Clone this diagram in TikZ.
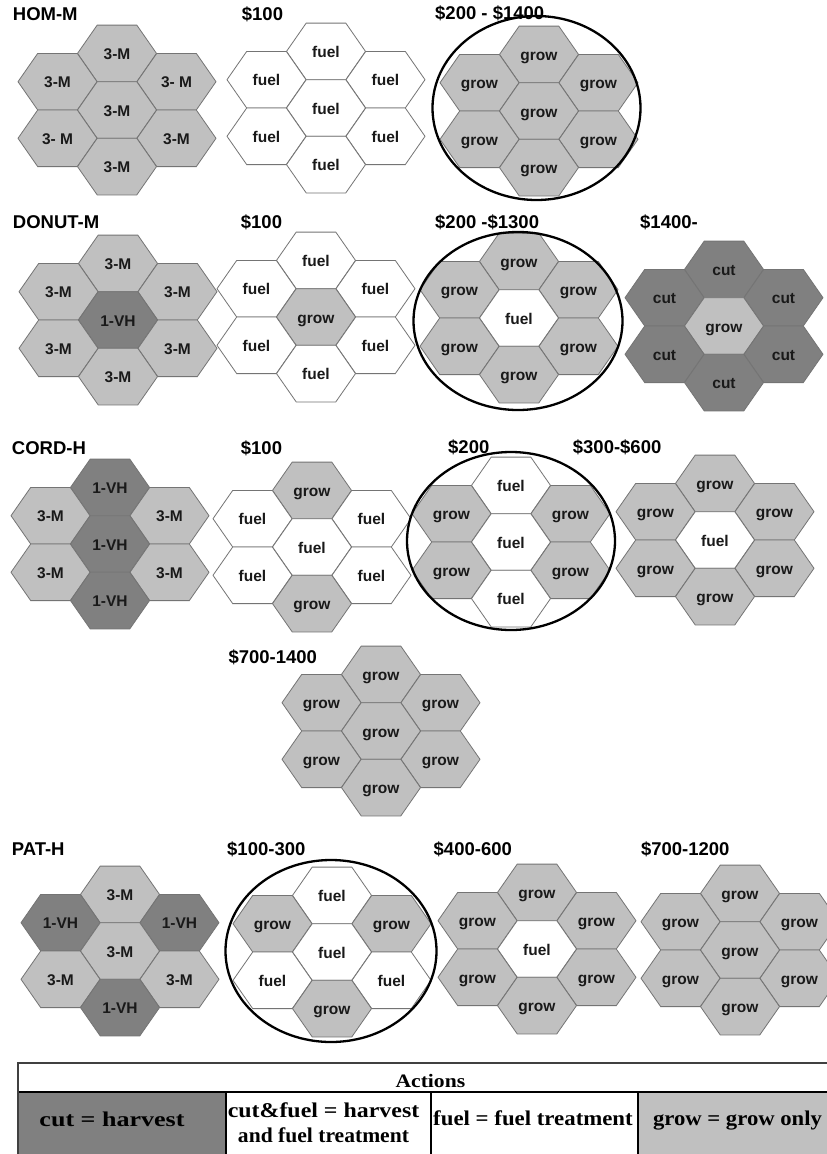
\documentclass[tikz,border=0pt]{standalone}
\usepackage{fontspec}
\usepackage{graphicx}
\setmainfont{Liberation Serif}
\setsansfont{Liberation Sans}
\definecolor{lt}{HTML}{C0C0C0}
\definecolor{dk}{HTML}{808080}
\definecolor{edge}{HTML}{747474}
\tikzset{
  hexline/.style={draw=edge, line width=0.8pt},
  hexlabel/.style={font=\sffamily\bfseries\fontsize{15.5}{18}\selectfont, inner sep=0pt, anchor=base, text=black!90},
  title/.style={font=\sffamily\bfseries\fontsize{18.5}{22}\selectfont, anchor=base west, inner sep=0pt},
  ring/.style={draw=black, line width=2.3pt},
  legendtext/.style={font=\rmfamily\bfseries\fontsize{21}{24}\selectfont, anchor=base, inner sep=0pt},
  gridline/.style={draw=black, line width=1.3pt},
}
% #1 name prefix, #2 x, #3 y of the middle cell,
% #4 cells as fill/label in the order top, upper left, upper right,
%    middle, lower left, lower right, bottom
\newcommand{\hexcluster}[4]{%
  \foreach \fc/\lab [count=\i] in {#4} {%
    \ifcase\i\or
      \def\dx{0}\def\dy{-56.6}\or
      \def\dx{-59.5}\def\dy{-28.3}\or
      \def\dx{59.5}\def\dy{-28.3}\or
      \def\dx{0}\def\dy{0}\or
      \def\dx{-59.5}\def\dy{28.3}\or
      \def\dx{59.5}\def\dy{28.3}\or
      \def\dx{0}\def\dy{56.6}\fi
    \pgfmathsetmacro\hx{#2+\dx}
    \pgfmathsetmacro\hy{#3+\dy}
    \pgfmathsetmacro\hb{#3+\dy+6}
    \draw[hexline, fill=\fc, shift={(\hx,\hy)}]
      (-39.5,0) -- (-19.8,-28.3) -- (19.8,-28.3) -- (39.5,0)
      -- (19.8,28.3) -- (-19.8,28.3) -- cycle;
    \node[hexlabel] (#1-\i) at (\hx,\hb) {\lab};
  }}
\begin{document}
\begin{tikzpicture}[x=1pt, y=-1pt]
\path[use as bounding box] (0,0) rectangle (827,1154);
\clip (0,0) rectangle (827,1154);
\fill[white] (0,0) rectangle (827,1154);

% ---- HOM-M
\hexcluster{a1}{117}{110}{lt/3-M, lt/3-M, lt/3- M, lt/3-M, lt/3- M, lt/3-M, lt/3-M}
\hexcluster{a2}{326}{108}{white/fuel, white/fuel, white/fuel, white/fuel, white/fuel, white/fuel, white/fuel}
\hexcluster{a3}{539}{111}{lt/grow, lt/grow, lt/grow, lt/grow, lt/grow, lt/grow, lt/grow}

% ---- DONUT-M
\hexcluster{b1}{118}{320}{lt/3-M, lt/3-M, lt/3-M, dk/1-VH, lt/3-M, lt/3-M, lt/3-M}
\hexcluster{b2}{316}{317}{white/fuel, white/fuel, white/fuel, lt/grow, white/fuel, white/fuel, white/fuel}
\hexcluster{b3}{519}{318}{lt/grow, lt/grow, lt/grow, white/fuel, lt/grow, lt/grow, lt/grow}
\hexcluster{b4}{724}{326}{dk/cut, dk/cut, dk/cut, lt/grow, dk/cut, dk/cut, dk/cut}

% ---- CORD-H
\hexcluster{c1}{110}{544}{dk/1-VH, lt/3-M, lt/3-M, dk/1-VH, lt/3-M, lt/3-M, dk/1-VH}
\hexcluster{c2}{312}{547}{lt/grow, white/fuel, white/fuel, white/fuel, white/fuel, white/fuel, lt/grow}
\hexcluster{c3}{511}{542}{white/fuel, lt/grow, lt/grow, white/fuel, lt/grow, lt/grow, white/fuel}
\hexcluster{c4}{715}{540}{lt/grow, lt/grow, lt/grow, white/fuel, lt/grow, lt/grow, lt/grow}
\hexcluster{d1}{381}{731}{lt/grow, lt/grow, lt/grow, lt/grow, lt/grow, lt/grow, lt/grow}

% ---- PAT-H
\hexcluster{e1}{120}{951}{lt/3-M, dk/1-VH, dk/1-VH, lt/3-M, lt/3-M, lt/3-M, dk/1-VH}
\hexcluster{e2}{332}{952}{white/fuel, lt/grow, lt/grow, white/fuel, white/fuel, white/fuel, lt/grow}
\hexcluster{e3}{537}{949}{lt/grow, lt/grow, lt/grow, white/fuel, lt/grow, lt/grow, lt/grow}
\hexcluster{e4}{740}{950}{lt/grow, lt/grow, lt/grow, lt/grow, lt/grow, lt/grow, lt/grow}

% ---- rings round the chosen plans
\draw[ring] (536.5,108) ellipse [x radius=104, y radius=92];
\draw[ring] (518,321) ellipse [x radius=104.5, y radius=89];
\draw[ring] (511,541) ellipse [x radius=104, y radius=89];
\draw[ring] (331,951) ellipse [x radius=105.5, y radius=91];

% ---- headings
\node[title] (tA) at (12.7,20) {HOM-M};
\node[title] (tA1) at (241.7,20) {\$100};
\node[title] (tA2) at (435,19.5) {\$200 - \$1400};
\node[title] (tB) at (12.7,228) {DONUT-M};
\node[title] (tB1) at (240.7,228) {\$100};
\node[title] (tB2) at (435,228) {\$200 -\$1300};
\node[title] (tB3) at (640,228) {\$1400-};
\node[title] (tC) at (11.7,454) {CORD-H};
\node[title] (tC1) at (240.7,454) {\$100};
\node[title] (tC2) at (448,453) {\$200};
\node[title] (tC3) at (572.7,453) {\$300-\$600};
\node[title] (tD1) at (228.3,663) {\$700-1400};
\node[title] (tE) at (11.6,855) {PAT-H};
\node[title] (tE1) at (227,855) {\$100-300};
\node[title] (tE2) at (433.5,855) {\$400-600};
\node[title] (tE3) at (640.8,855) {\$700-1200};

% ---- key to the actions
\fill[white] (18,1063) rectangle (860,1180);
\fill[dk] (18,1092) rectangle (226,1180);
\fill[lt] (638,1092) rectangle (860,1180);
\draw[gridline] (226,1092) -- (226,1180);
\draw[gridline] (431,1092) -- (431,1180);
\draw[gridline] (638,1092) -- (638,1180);
\draw[black, line width=2.6pt] (18,1092) -- (860,1092);
\draw[draw=black!75, line width=1.8pt] (18,1180) -- (18,1063) -- (860,1063);
\node[legendtext, font=\rmfamily\bfseries\fontsize{19}{22}\selectfont] (kA) at (430.4,1087)
  {\resizebox{69.6pt}{\height}{Actions}};
\node[legendtext] (k1) at (112,1126) {\resizebox{145pt}{\height}{cut = harvest}};
\node[legendtext] (k2a) at (323.5,1117) {\resizebox{191.5pt}{\height}{cut\&fuel = harvest}};
\node[legendtext] (k2b) at (323.5,1142) {\resizebox{171pt}{\height}{and fuel treatment}};
\node[legendtext] (k3) at (533,1125) {\resizebox{199.5pt}{\height}{fuel = fuel treatment}};
\node[legendtext] (k4) at (737.5,1125) {\resizebox{169pt}{\height}{grow = grow only}};
\end{tikzpicture}
\end{document}
